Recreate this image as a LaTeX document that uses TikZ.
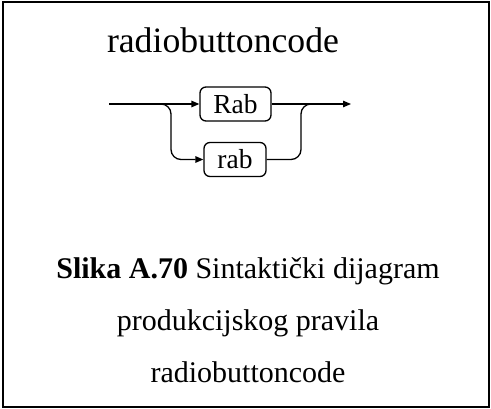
\documentclass[tikz,border=0pt]{standalone}
\usepackage{fontspec}
\setmainfont{Liberation Serif}
\usepackage{tikz}
\usetikzlibrary{arrows.meta, positioning, calc}
\tikzset{
  railbox/.style={draw=black, rounded corners=6pt, line width=1.3pt, inner sep=0pt,
                  minimum height=34pt, font=\fontsize{27.5}{30}\selectfont},
  rail/.style={line width=1.3pt, draw=black},
  railarrow/.style={rail, -{Triangle[length=8pt, width=6.5pt]}},
  titlelbl/.style={font=\fontsize{35.7}{40}\selectfont, inner sep=0pt},
  caplbl/.style={font=\fontsize{30}{36}\selectfont, inner sep=0pt},
}
\begin{document}
\begin{tikzpicture}[x=1pt, y=-1pt]
  \useasboundingbox (0,0) rectangle (491,409);
  % frame
  \draw[line width=2pt] (3,2) rectangle (489,407);
  % title
  \node[titlelbl, anchor=base] (title) at (223,53) {radiobuttoncode};
  % boxes
  \node[railbox, minimum width=71pt] (kwRab) at (235.5,104) {Rab};
  \node[railbox, minimum width=62pt] (kwrab) at (235,159.5) {rab};
  % rail points
  \coordinate (in) at (109,104);
  \coordinate (out) at (351,104);
  \coordinate (forkL) at (161,104);
  \coordinate (bendL) at (171,104);
  \coordinate (bendR) at (301,104);
  \coordinate (forkR) at (311,104);
  % main rail
  \draw[railarrow] (in) -- (kwRab.west);
  \draw[railarrow] (kwRab.east) -- (out);
  % alternative
  \draw[railarrow, rounded corners=10pt] (forkL) -- (bendL) |- (kwrab.west);
  \draw[rail, rounded corners=10pt] (kwrab.east) -| (bendR) -- (forkR);
  % caption
  \node[caplbl, anchor=base] (cap1) at (248,279) {\textbf{Slika A.70} Sintaktički dijagram};
  \node[caplbl, anchor=base] (cap2) at (248,331) {produkcijskog pravila};
  \node[caplbl, anchor=base] (cap3) at (248,383) {radiobuttoncode};
\end{tikzpicture}
\end{document}
